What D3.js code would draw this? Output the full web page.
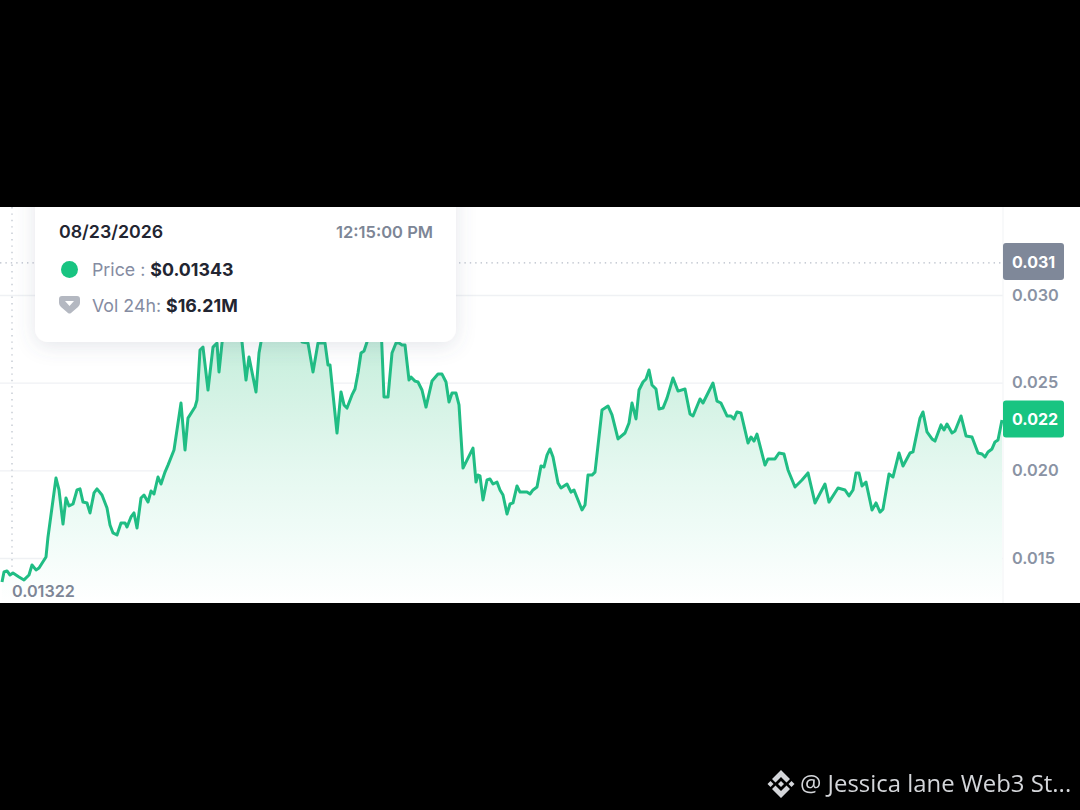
<!DOCTYPE html>
<html>
<head>
<meta charset="utf-8">
<script src="https://cdn.jsdelivr.net/npm/d3@7"></script>
<style>
html, body { margin: 0; padding: 0; background: #000; overflow: hidden; }
svg { display: block; filter: blur(0.45px); }
text { font-family: Inter, "Noto Sans", sans-serif; }
</style>
</head>
<body>
<div id="chart"></div>
<script>
// sample time in steps from the start of the range, price in dollars
const sampleTimes = [
    0, 2, 5, 8, 11, 17, 22, 27, 30, 34,
    37, 44, 46, 54, 57, 61, 64, 67, 71, 75,
    78, 81, 85, 88, 92, 95, 100, 105, 108, 111,
    115, 119, 123, 125, 129, 132, 135, 139, 142, 146,
    149, 152, 156, 159, 163, 166, 172, 179, 183, 186,
    193, 195, 198, 201, 206, 211, 215, 217, 220, 224,
    230, 236, 240, 244, 247, 254, 257, 259, 266, 274,
    283, 290, 296, 300, 306, 311, 316, 323, 326, 328,
    335, 339, 342, 345, 350, 353, 356, 359, 362, 365,
    370, 375, 379, 382, 386, 390, 394, 397, 400, 403,
    407, 409, 413, 416, 420, 424, 430, 436, 440, 444,
    447, 450, 454, 457, 461, 471, 474, 476, 478, 481,
    485, 488, 491, 495, 498, 501, 505, 508, 511, 515,
    518, 525, 528, 531, 535, 539, 542, 545, 548, 551,
    556, 559, 565, 569, 572, 580, 583, 586, 590, 593,
    600, 606, 610, 616, 623, 627, 630, 634, 637, 641,
    644, 647, 650, 654, 657, 661, 665, 671, 676, 683,
    688, 691, 698, 701, 711, 715, 719, 725, 729, 732,
    735, 739, 746, 749, 752, 755, 763, 766, 773, 777,
    782, 786, 793, 800, 806, 813, 823, 827, 836, 843,
    847, 851, 854, 857, 860, 864, 870, 874, 878, 881,
    887, 891, 897, 901, 908, 911, 918, 921, 925, 930,
    933, 939, 942, 945, 950, 953, 959, 964, 970, 976,
    980, 983, 986, 990, 993, 996, 1000
];
const priceValues = [
    0.01363, 0.01420, 0.01426, 0.01403, 0.01414, 0.01392, 0.01375, 0.01403, 0.01460, 0.01432,
    0.01443, 0.01506, 0.01620, 0.01956, 0.01888, 0.01694, 0.01842, 0.01797, 0.01808, 0.01888,
    0.01894, 0.01819, 0.01814, 0.01757, 0.01871, 0.01894, 0.01859, 0.01785, 0.01688, 0.01643,
    0.01631, 0.01700, 0.01700, 0.01677, 0.01734, 0.01757, 0.01671, 0.01842, 0.01859, 0.01819,
    0.01882, 0.01865, 0.01962, 0.01922, 0.01990, 0.02030, 0.02116, 0.02384, 0.02116, 0.02298,
    0.02361, 0.02401, 0.02686, 0.02703, 0.02458, 0.02703, 0.02726, 0.02561, 0.02726, 0.02857,
    0.03028, 0.02914, 0.02732, 0.02515, 0.02646, 0.02447, 0.02669, 0.02732, 0.02971, 0.02869,
    0.03183, 0.03000, 0.02857, 0.02732, 0.02726, 0.02561, 0.02726, 0.02726, 0.02601, 0.02601,
    0.02213, 0.02447, 0.02373, 0.02355, 0.02430, 0.02464, 0.02555, 0.02669, 0.02681, 0.02732,
    0.02857, 0.02971, 0.02829, 0.02418, 0.02418, 0.02669, 0.02726, 0.02726, 0.02715, 0.02715,
    0.02515, 0.02532, 0.02509, 0.02504, 0.02458, 0.02361, 0.02509, 0.02549, 0.02549, 0.02504,
    0.02390, 0.02441, 0.02441, 0.02373, 0.02013, 0.02127, 0.01933, 0.01973, 0.01968, 0.01831,
    0.01945, 0.01951, 0.01922, 0.01933, 0.01888, 0.01859, 0.01751, 0.01808, 0.01814, 0.01911,
    0.01876, 0.01876, 0.01865, 0.01888, 0.01905, 0.02025, 0.02019, 0.02087, 0.02122, 0.02076,
    0.01928, 0.01899, 0.01922, 0.01876, 0.01888, 0.01774, 0.01802, 0.01973, 0.01973, 0.01990,
    0.02344, 0.02367, 0.02316, 0.02179, 0.02213, 0.02270, 0.02384, 0.02293, 0.02458, 0.02504,
    0.02521, 0.02572, 0.02487, 0.02464, 0.02350, 0.02355, 0.02412, 0.02527, 0.02452, 0.02464,
    0.02321, 0.02310, 0.02407, 0.02384, 0.02498, 0.02395, 0.02384, 0.02310, 0.02310, 0.02293,
    0.02333, 0.02327, 0.02156, 0.02190, 0.02167, 0.02207, 0.02030, 0.02065, 0.02065, 0.02099,
    0.02093, 0.02002, 0.01905, 0.01945, 0.01985, 0.01814, 0.01922, 0.01819, 0.01899, 0.01888,
    0.01854, 0.01888, 0.01985, 0.01985, 0.01911, 0.01933, 0.01774, 0.01814, 0.01762, 0.01779,
    0.01979, 0.01962, 0.02099, 0.02025, 0.02099, 0.02105, 0.02298, 0.02333, 0.02219, 0.02179,
    0.02167, 0.02259, 0.02230, 0.02264, 0.02213, 0.02224, 0.02310, 0.02196, 0.02190, 0.02099,
    0.02093, 0.02076, 0.02105, 0.02122, 0.02162, 0.02173, 0.02287
];
const gridTicks = [0.015, 0.020, 0.025, 0.030];
const highValue = 0.03183;
const lowValue = 0.01322;
const lastValue = 0.02287;

const width = 1080, height = 810;
const panelTop = 207, panelBottom = 603;
const plotLeft = 2, plotRight = 1002;

const svg = d3.select("#chart").append("svg")
    .attr("width", width)
    .attr("height", height)
    .attr("viewBox", `0 0 ${width} ${height}`);

const defs = svg.append("defs");

const grad = defs.append("linearGradient")
    .attr("id", "areaFill")
    .attr("gradientUnits", "userSpaceOnUse")
    .attr("x1", 0).attr("x2", 0)
    .attr("y1", 340).attr("y2", panelBottom);
grad.append("stop").attr("offset", "0%").attr("stop-color", "#c6eedc");
grad.append("stop").attr("offset", "30%").attr("stop-color", "#d9f4e8");
grad.append("stop").attr("offset", "50%").attr("stop-color", "#e5f8f0");
grad.append("stop").attr("offset", "75%").attr("stop-color", "#f1fcf8");
grad.append("stop").attr("offset", "100%").attr("stop-color", "#ffffff");

const shadow = defs.append("filter")
    .attr("id", "cardShadow")
    .attr("x", "-10%").attr("y", "-20%")
    .attr("width", "120%").attr("height", "150%");
shadow.append("feDropShadow")
    .attr("dx", 0).attr("dy", 4)
    .attr("stdDeviation", 10)
    .attr("flood-color", "#58667e")
    .attr("flood-opacity", 0.16);

defs.append("clipPath").attr("id", "panelClip")
    .append("rect")
    .attr("x", 0).attr("y", panelTop)
    .attr("width", width).attr("height", panelBottom - panelTop);

const x = d3.scaleLinear()
    .domain(d3.extent(sampleTimes))
    .range([plotLeft, plotRight]);

const y = d3.scaleLinear()
    .domain([0.015, 0.030])
    .range([558, 295]);

const points = sampleTimes.map((t, i) => ({ t: t, v: priceValues[i] }));

// white panel on the black page
svg.append("rect")
    .attr("x", 0).attr("y", panelTop)
    .attr("width", width).attr("height", panelBottom - panelTop)
    .attr("fill", "#fff");

const plot = svg.append("g").attr("clip-path", "url(#panelClip)");

// grid and labels come from one right axis
const axis = d3.axisRight(y)
    .tickValues(gridTicks)
    .tickFormat(d3.format(".3f"))
    .tickSize(0)
    .tickPadding(1010);

const axisG = plot.append("g").call(axis);
axisG.select(".domain").remove();
axisG.selectAll(".tick line")
    .attr("x1", 0).attr("x2", plotRight + 1)
    .attr("stroke", "#eff1f4")
    .attr("stroke-width", 1.4);
axisG.selectAll(".tick text")
    .attr("x", 1012)
    .attr("fill", "#8a93a4")
    .style("font-size", "16.3px")
    .style("font-weight", 600)
    .style("font-family", "Inter, sans-serif");

// right edge of the plot
plot.append("line")
    .attr("x1", plotRight + 1).attr("x2", plotRight + 1)
    .attr("y1", panelTop).attr("y2", panelBottom)
    .attr("stroke", "#f4f5f7").attr("stroke-width", 1.2);

// dotted crosshair and high / low lines
plot.append("line")
    .attr("x1", 12).attr("x2", 12)
    .attr("y1", panelTop).attr("y2", y(lowValue))
    .attr("stroke", "#c4c9d2").attr("stroke-width", 1.4)
    .attr("stroke-dasharray", "1.4 5");

plot.selectAll("line.extreme")
    .data([highValue, lowValue])
    .enter()
    .append("line")
    .attr("class", "extreme")
    .attr("x1", d => d === lowValue ? 82 : 0)
    .attr("x2", plotRight)
    .attr("y1", d => y(d)).attr("y2", d => y(d))
    .attr("stroke", "#b6bcc7").attr("stroke-width", 1.4)
    .attr("stroke-dasharray", "1.4 4");

const area = d3.area()
    .x(d => x(d.t))
    .y0(panelBottom)
    .y1(d => y(d.v));

const line = d3.line()
    .x(d => x(d.t))
    .y(d => y(d.v));

plot.append("path")
    .datum(points)
    .attr("fill", "url(#areaFill)")
    .attr("d", area);

plot.append("path")
    .datum(points)
    .attr("fill", "none")
    .attr("stroke", "#20bd84")
    .attr("stroke-width", 3)
    .attr("stroke-linejoin", "round")
    .attr("d", line);

// low label
plot.append("text")
    .attr("x", 12).attr("y", y(lowValue) + 8)
    .attr("fill", "#7d8696")
    .style("font-size", "16.2px")
    .style("font-weight", 600)
    .text(d3.format(".5f")(lowValue));

// value tags on the right
const tags = [
    { v: highValue, text: "0.031", fill: "#7f8899", cy: 261.5 },
    { v: lastValue, text: "0.022", fill: "#18c481", cy: 419 }
];
const tag = svg.append("g").selectAll("g")
    .data(tags)
    .enter()
    .append("g")
    .attr("transform", d => `translate(1003, ${d.cy})`);
tag.append("rect")
    .attr("x", 0).attr("y", -18.5)
    .attr("width", 61).attr("height", 37)
    .attr("rx", 3)
    .attr("fill", d => d.fill);
tag.append("text")
    .attr("x", 9).attr("y", 6)
    .attr("fill", "#fff")
    .style("font-size", "16px")
    .style("font-weight", 700)
    .text(d => d.text);

// tooltip card
const card = svg.append("g").attr("clip-path", "url(#panelClip)");
card.append("rect")
    .attr("x", 35).attr("y", 180)
    .attr("width", 421).attr("height", 162)
    .attr("rx", 13)
    .attr("fill", "#fff")
    .attr("filter", "url(#cardShadow)");

card.append("text")
    .attr("x", 59).attr("y", 238)
    .attr("fill", "#222531")
    .style("font-size", "17.8px")
    .style("font-weight", 600)
    .text("08/23/2026");

card.append("text")
    .attr("x", 433).attr("y", 238)
    .attr("text-anchor", "end")
    .attr("fill", "#7d8696")
    .style("font-size", "16.5px")
    .style("font-weight", 600)
    .text("12:15:00 PM");

card.append("circle")
    .attr("cx", 69.5).attr("cy", 269.5).attr("r", 8.5)
    .attr("fill", "#18c481");

const priceRow = card.append("text")
    .attr("x", 92).attr("y", 276)
    .style("font-size", "17.8px");
priceRow.append("tspan").attr("fill", "#858ca2").text("Price : ");
priceRow.append("tspan").attr("fill", "#222531").style("font-weight", 700).text("$0.01343");

card.append("path")
    .attr("d", "M62 296 H77 Q80 296 80 299 V303 Q80 305 78 307 L71 313 Q69.5 314 68 313 L61 307 Q59 305 59 303 V299 Q59 296 62 296 Z M65 301 L69.5 306 L74 301 Z")
    .attr("fill", "#b4b8c1")
    .attr("fill-rule", "evenodd");

const volRow = card.append("text")
    .attr("x", 92).attr("y", 312)
    .style("font-size", "17.8px");
volRow.append("tspan").attr("fill", "#858ca2").text("Vol 24h: ");
volRow.append("tspan").attr("fill", "#222531").style("font-weight", 700).text("$16.21M");

// watermark
const mark = svg.append("g")
    .attr("transform", "translate(781, 784)")
    .attr("fill", "#d4d6da");
mark.selectAll("path.chevron")
    .data([1, -1])
    .enter()
    .append("path")
    .attr("class", "chevron")
    .attr("transform", d => `scale(1, ${d})`)
    .attr("d", "M0 -14 L9 -5 L5.5 -1.5 L0 -7 L-5.5 -1.5 L-9 -5 Z");
mark.selectAll("path.dot")
    .data([-10.5, 0, 10.5])
    .enter()
    .append("path")
    .attr("class", "dot")
    .attr("transform", d => `translate(${d}, 0)`)
    .attr("d", "M0 -3 L3 0 L0 3 L-3 0 Z");
svg.append("text")
    .attr("x", 800).attr("y", 792)
    .attr("fill", "#d4d6da")
    .style("font-family", "'Open Sans', 'Noto Sans', sans-serif")
    .style("font-size", "23.9px")
    .text("@ Jessica lane Web3 St...");
</script>
</body>
</html>
